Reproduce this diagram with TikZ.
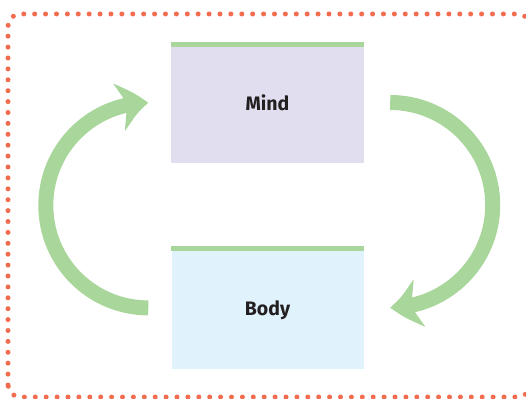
\documentclass[tikz,border=0pt]{standalone}
\usepackage{fontspec}
\newfontfamily\labelfont{Fira Sans}
\usepackage{xcolor}
\usepackage{tikz}
\usetikzlibrary{arrows.meta,bending,positioning,calc}

\definecolor{mindfill}{HTML}{E1DEEF}
\definecolor{bodyfill}{HTML}{E0F3FC}
\definecolor{loopgreen}{HTML}{A9D69B}
\definecolor{dotorange}{HTML}{F26D4F}
\definecolor{labelink}{HTML}{231F20}

\begin{document}
\begin{tikzpicture}[
  x=1pt, y=1pt,
  font=\labelfont\bfseries\fontsize{19.5}{22}\selectfont,
  box/.style={inner sep=0pt, text depth=0pt, text=labelink, minimum width=193pt, minimum height=121pt},
  bar/.style={fill=loopgreen},
  loop/.style={draw=loopgreen, line width=15pt, -{Stealth[length=30pt, width=48pt, inset=9pt, bend]}},
]
\useasboundingbox (0,0) rectangle (526,398);
\clip (0,0) rectangle (526,398);

% dotted frame
\draw[dotorange, line width=5pt, line cap=round, dash pattern=on 0pt off 10.9pt, rounded corners=12pt] (8,1) rectangle (530,384);

\node[box, fill=mindfill] (mind) at (267.5,295.5) {Mind};
\node[box, fill=bodyfill, minimum width=192pt, minimum height=123pt, below=83pt of mind] (body) {Body};

\fill[bar] (mind.north west) rectangle ($(mind.north east)+(0,-5)$);
\fill[bar] (body.north west) rectangle ($(body.north east)+(0,-5)$);

\draw[loop] ($(mind.east)+(26,0)$) arc[start angle=90, end angle=-90, radius=102.5pt];
\draw[loop] ($(body.west)+(-23,0)$) arc[start angle=270, end angle=90, radius=102.5pt];

\end{tikzpicture}
\end{document}
